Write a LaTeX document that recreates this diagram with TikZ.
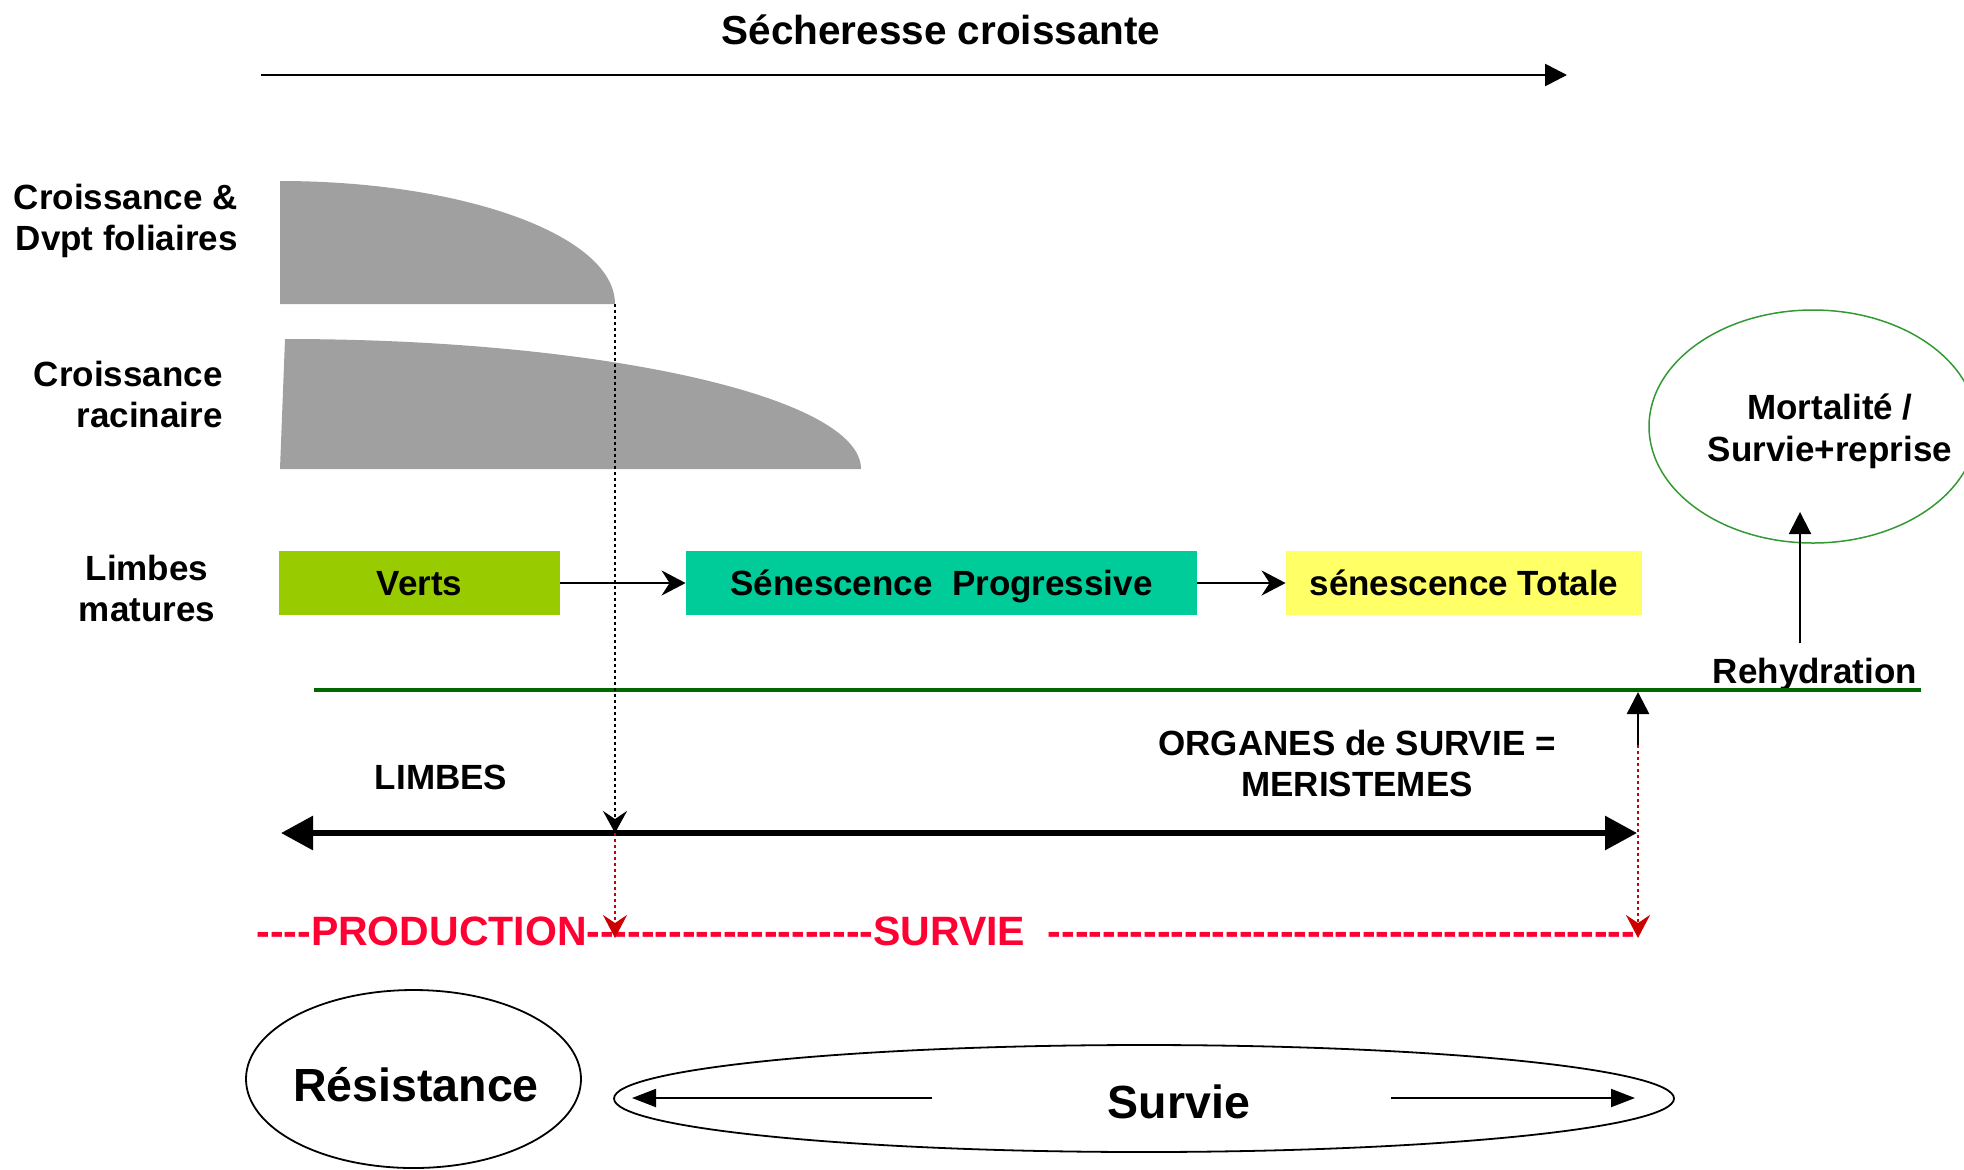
\documentclass[tikz,border=0pt]{standalone}
\usepackage{fontspec}
\setmainfont{Liberation Sans}
\usetikzlibrary{arrows.meta,shapes.geometric}
\definecolor{leafgray}{HTML}{A0A0A0}
\definecolor{vertsgreen}{HTML}{99CC00}
\definecolor{progteal}{HTML}{00CC99}
\definecolor{totyellow}{HTML}{FFFF66}
\definecolor{groundgreen}{HTML}{006600}
\definecolor{ellgreen}{HTML}{339933}
\definecolor{phasered}{HTML}{FF0033}
\definecolor{dotred}{HTML}{CC0000}
\newcommand{\redrun}[1]{\foreach \k in {1,...,#1}{-}}

\begin{document}
\begin{tikzpicture}[x=0.5pt,y=0.5pt,
    lbl/.style={font=\bfseries\fontsize{17.5}{20.5}\selectfont, inner sep=0pt, align=center},
    bigfont/.style={font=\bfseries\fontsize{23.25}{27}\selectfont, inner sep=0pt},
    phase/.style={lbl, minimum height=32pt, text height=16.7pt, text depth=4pt},
    plainell/.style={ellipse, draw, line width=0.9pt, inner sep=0pt},
    toparrow/.style={line width=1.3pt, -{Triangle[length=11pt,width=11pt]}},
    boxarrow/.style={line width=1.4pt, -{Stealth[length=12pt,width=12.5pt,inset=4pt]}},
    bigarrow/.style={line width=3pt, {Triangle[length=16pt,width=16.5pt]}-{Triangle[length=16pt,width=16.5pt]}},
    blackdot/.style={line width=1.3pt, dash pattern=on 1.6pt off 1.4pt, -{Stealth[length=11pt,width=12pt,inset=4pt]}},
    reddot/.style={dotred, line width=1.3pt, dash pattern=on 1.6pt off 1.4pt, -{Stealth[length=11.5pt,width=12pt,inset=4pt]}},
    svarrow/.style={line width=1pt, -{Triangle[length=12pt,width=9pt]}}]
    \useasboundingbox (0,0) rectangle (1964,-1169);

    % drought axis
    \node[lbl, font=\bfseries\fontsize{20.25}{24}\selectfont, anchor=base] (title) at (941,-44) {Sécheresse croissante};
    \coordinate (sstart) at (261,-75);
    \coordinate (send) at (1567,-75);
    \draw[toparrow] (sstart) -- (send);

    % row labels
    \node[lbl, align=right, anchor=east] (lfol) at (238,-221) {Croissance \&\\Dvpt foliaires};
    \node[lbl, align=right, anchor=east] (lrac) at (223,-394) {Croissance\\racinaire};
    \node[lbl] (llim) at (147,-588) {Limbes\\matures};

    % growth curves
    \fill[leafgray] (280,-304) -- (280,-181) arc [start angle=90, end angle=0, x radius=335, y radius=123] -- cycle;
    \fill[leafgray] (280,-469) -- (285,-339) arc [start angle=90, end angle=0, x radius=576, y radius=130] -- cycle;
    \coordinate (fend) at (615,-304);

    % leaf stages
    \node[phase, fill=vertsgreen, minimum width=140.5pt] (verts) at (419.5,-583) {Verts};
    \node[phase, fill=progteal, minimum width=255.5pt] (sprog) at (941.5,-583) {Sénescence~ Progressive};
    \node[phase, fill=totyellow, minimum width=178pt] (stot) at (1464,-583) {sénescence Totale};
    \draw[boxarrow] (verts) -- (sprog);
    \draw[boxarrow] (sprog) -- (stot);

    % rehydration
    \node[ellipse, draw=ellgreen, line width=0.75pt, inner sep=0pt, minimum width=164pt, minimum height=116.5pt] (mort) at (1813,-426.5) {};
    \node[lbl, font=\bfseries\fontsize{17.5}{21}\selectfont] (mortlbl) at (1830,-431) {Mortalité /\\Survie+reprise};
    \node[lbl, anchor=base] (rehyd) at (1815,-683) {Rehydration};
    \coordinate (hydtip) at (1800,-512);
    \draw[toparrow, line width=1pt] ([yshift=7pt]rehyd.north -| hydtip) -- (hydtip);

    \coordinate (gl) at (314,-690);
    \coordinate (gr) at (1921,-690);
    \draw[groundgreen, line width=2pt] (gl) -- (gr);

    % organs
    \node[lbl] (limbes) at (441,-777) {LIMBES};
    \node[lbl] (organes) at (1357,-763.5) {ORGANES de SURVIE =\\MERISTEMES};
    \coordinate (dl) at (281,-833);
    \coordinate (dr) at (1637,-833);
    \draw[bigarrow] (dl) -- (dr);

    \node[font=\bfseries\fontsize{20.5}{24}\selectfont, text=phasered, inner sep=0pt, anchor=base west] (phases) at (256,-945) {\redrun{4}PRODUCTION\redrun{21}SURVIE~ \redrun{43}};

    \coordinate (lmid) at (615,-833);
    \coordinate (lbot) at (615,-938);
    \draw[blackdot] (fend) -- (lmid);
    \draw[reddot] (lmid) -- (lbot);
    \coordinate (rtop) at (1638,-692);
    \coordinate (rmid) at (1638,-745);
    \coordinate (rbot) at (1638,-938);
    \draw[toparrow] (rmid) -- (rtop);
    \draw[reddot] (rmid) -- (rbot);

    % strategies
    \node[plainell, minimum width=167.5pt, minimum height=89pt] (resell) at (413.5,-1079) {};
    \node[bigfont] (resist) at (416,-1085) {Résistance};
    \node[plainell, minimum width=530pt, minimum height=53.5pt] (survell) at (1144,-1098.5) {};
    \node[bigfont] (survie) at (1179,-1102) {Survie};
    \coordinate (sva) at (932,-1098);
    \coordinate (svb) at (632,-1098);
    \coordinate (svc) at (1391,-1098);
    \coordinate (svd) at (1635,-1098);
    \draw[svarrow] (sva) -- (svb);
    \draw[svarrow] (svc) -- (svd);
\end{tikzpicture}
\end{document}
